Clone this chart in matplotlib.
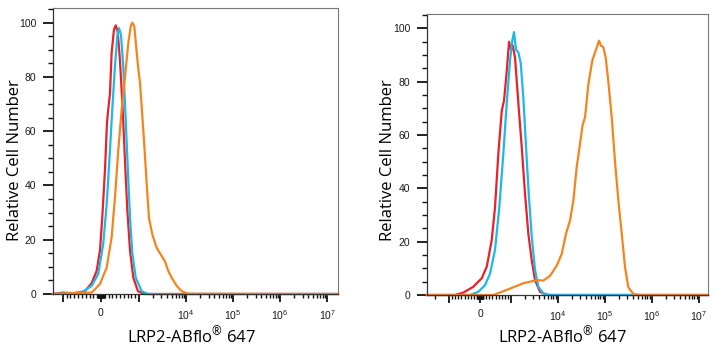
import numpy as np
import matplotlib
matplotlib.use("Agg")
import matplotlib.pyplot as plt
from matplotlib.ticker import FixedLocator, FixedFormatter, MultipleLocator

plt.rcParams['font.family'] = ['Liberation Sans', 'DejaVu Sans']
plt.rcParams['mathtext.default'] = 'regular'

# ---- data (fluorescence intensity vs. relative cell number) ----
# left panel
left_red_x = [-1620, -1000, -700, -421, -245, -113, -26, 34, 105, 158, 192, 237, 281, 342, 387,
              439, 500, 571, 631, 692, 763, 849, 973, 1337, 1.7e7]
left_red_y = [0, 0.5, 0.3, 1, 4, 8.5, 16, 28, 45.5, 63, 68, 74, 89, 97.4, 99,
              96.8, 86, 68, 49, 31, 16, 6, 1, 0, 0]
left_cyan_x = [-1620, -900, -508, -245, -71, 60, 150, 237, 297, 368, 429, 473, 526, 586,
               650, 702, 763, 823, 913, 1138, 1549, 1.7e7]
left_cyan_y = [0, 0.2, 0.5, 3, 7.4, 18.5, 33, 53, 68, 84, 95, 98, 95.5, 84,
               64, 47, 28, 15, 6, 1, 0, 0]
left_orange_x = [-1620, -800, -245, -26, 150, 281, 368, 455, 544, 631, 718, 781, 823, 876, 939,
                 981, 1047, 1138, 1292, 1453, 1626, 1911, 2371, 3030, 3562, 4188, 4943,
                 6324, 8072, 11143, 1.7e7]
left_orange_y = [0, 0.3, 0.5, 3.7, 9.7, 21, 35.7, 53, 68, 80, 92.5, 98.6, 100, 98.6, 89,
                 83, 78, 69, 55, 40.6, 28, 22, 17, 14, 12, 8.5, 6,
                 3, 1, 0.1, 0]

# right panel
right_red_x = [-2940, -806, -538, -216, 55, 216, 377, 484, 590, 700, 774, 861, 935, 999,
               1086, 1216, 1429, 1687, 1982, 2333, 2754, 3236, 4137, 5741, 1.55e7]
right_red_y = [0, 0, 0.9, 3.1, 6.3, 10.6, 20.6, 33, 53, 69, 73, 84, 95, 92,
               93.6, 89, 72, 55.5, 38, 23, 13, 5.6, 1.2, 0, 0]
right_cyan_x = [-2940, -322, -55, 161, 322, 484, 622, 751, 861, 967, 1064, 1156, 1276, 1429,
                1607, 1824, 2084, 2377, 2754, 3236, 3802, 4864, 6745, 1.55e7]
right_cyan_y = [0, 0, 1.2, 3.7, 8, 17, 33, 53, 72, 88, 95.5, 98.6, 92, 91,
                87, 74, 55.5, 38, 22, 9.4, 3.1, 0.6, 0, 0]
right_orange_x = [-2940, 429, 751, 1119, 1824, 3516, 4864, 6745, 9376, 11967, 14791, 17989,
                  21135, 24946, 28379, 33497, 37497, 44055, 53580, 61200, 68550, 74470,
                  82040, 91830, 103300, 117500, 138700, 162900, 191900, 226500, 266100,
                  312600, 399900, 554600, 1.55e7]
right_orange_y = [0, 0, 1.4, 2.9, 4.4, 5.6, 5.4, 7.2, 11, 15.4, 23, 28,
                  35.4, 48, 55, 64, 66.6, 79, 88, 91, 93.5, 95.4,
                  93.5, 93, 89, 80, 66.6, 50, 35.4, 23, 10.4,
                  2.9, 0.4, 0, 0]

major_ticks = [-1000, 0, 1000, 1e4, 1e5, 1e6, 1e7]
major_labels = ["", "0", "", "$10^{4}$", "$10^{5}$", "$10^{6}$", "$10^{7}$"]

RED = "#ec2027"
CYAN = "#1bb8ec"
ORANGE = "#f5841f"

minor_ticks = []
for s in (-1, 1):
    minor_ticks += [s * v for v in range(10, 100, 10)]
    minor_ticks += [s * v for v in range(100, 1000, 100)]
    for dec in (1e3, 1e4, 1e5, 1e6):
        minor_ticks += [s * k * dec for k in range(2, 10)]

fig = plt.figure(figsize=(7.17, 3.5), dpi=100)
W, H = 717, 350


def make_axes(l, r, t, b):
    return fig.add_axes([l / W, 1 - b / H, (r - l) / W, (b - t) / H])


ax1 = make_axes(53, 338, 8, 294)
ax2 = make_axes(427, 708, 14, 295)

panels = [
    (ax1, 0.729, (-1620, 1.7e7),
     [(left_red_x, left_red_y, RED), (left_cyan_x, left_cyan_y, CYAN),
      (left_orange_x, left_orange_y, ORANGE)]),
    (ax2, 0.594, (-2940, 1.55e7),
     [(right_red_x, right_red_y, RED), (right_cyan_x, right_cyan_y, CYAN),
      (right_orange_x, right_orange_y, ORANGE)]),
]

for ax, linscale, xlim, curves in panels:
    ax.set_xscale('symlog', linthresh=1000, linscale=linscale, base=10)
    for xs, ys, c in curves:
        ax.plot(xs, ys, color=c, lw=1.6, clip_on=False, solid_joinstyle='round')
    ax.set_xlim(*xlim)
    ax.set_ylim(0, 105.4)
    ax.xaxis.set_major_locator(FixedLocator(major_ticks))
    ax.xaxis.set_major_formatter(FixedFormatter(major_labels))
    ax.xaxis.set_minor_locator(FixedLocator(minor_ticks))
    ax.yaxis.set_major_locator(MultipleLocator(20))
    ax.yaxis.set_minor_locator(MultipleLocator(5))
    ax.tick_params(axis='x', which='major', length=6, width=1.3, color='#111',
                   labelsize=7.5, pad=4, labelcolor='#1a1a1a')
    ax.tick_params(axis='x', which='minor', length=3, width=1.0, color='#111')
    ax.tick_params(axis='y', which='major', length=7, width=1.3, color='#111',
                   labelsize=7.5, pad=5, labelcolor='#1a1a1a')
    ax.tick_params(axis='y', which='minor', length=3.5, width=1.0, color='#111')
    for side in ('top', 'right'):
        ax.spines[side].set_color('#777')
        ax.spines[side].set_linewidth(0.8)
    for side in ('left', 'bottom'):
        ax.spines[side].set_color('#333')
        ax.spines[side].set_linewidth(0.9)

lab_font = ['Open Sans', 'DejaVu Sans']
fig.text(15 / W, 1 - 160 / H, "Relative Cell Number", rotation=90, ha='center', va='center',
         fontsize=12, family=lab_font)
fig.text(388 / W, 1 - 160 / H, "Relative Cell Number", rotation=90, ha='center', va='center',
         fontsize=12, family=lab_font)
fig.text(192 / W, 1 - 342 / H, r"LRP2-ABflo$^{\mathregular{®}}$ 647", ha='center', va='baseline',
         fontsize=12, family=lab_font)
fig.text(563 / W, 1 - 342 / H, r"LRP2-ABflo$^{\mathregular{®}}$ 647", ha='center', va='baseline',
         fontsize=12, family=lab_font)

fig.savefig("out.png", dpi=100)
